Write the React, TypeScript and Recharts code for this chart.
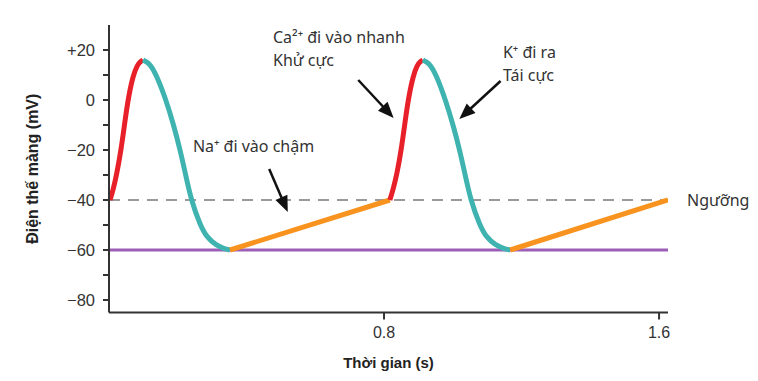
import { LineChart, Line, XAxis, YAxis, ReferenceLine, ReferenceDot, Label } from "recharts";

// [time (s), membrane potential (mV)]
const red1 = [[0.003, -40], [0.012, -36], [0.022, -30], [0.035, -20], [0.045, -10], [0.055, 0], [0.07, 10], [0.083, 14], [0.09, 15.2], [0.099, 16]];
const cyan1 = [[0.099, 16], [0.11, 15.2], [0.121, 14], [0.138, 10], [0.166, 0], [0.188, -10], [0.207, -20], [0.223, -30], [0.239, -40], [0.265, -50], [0.285, -55], [0.311, -58], [0.335, -59.5], [0.352, -60]];
const orange1 = [[0.352, -60], [0.817, -40]];
const red2 = [[0.817, -40], [0.826, -36], [0.837, -30], [0.85, -20], [0.86, -10], [0.87, 0], [0.885, 10], [0.897, 14], [0.904, 15.2], [0.913, 16]];
const cyan2 = [[0.913, 16], [0.924, 15.2], [0.935, 14], [0.952, 10], [0.979, 0], [1.001, -10], [1.02, -20], [1.036, -30], [1.052, -40], [1.078, -50], [1.098, -55], [1.124, -58], [1.149, -59.5], [1.167, -60]];
const orange2 = [[1.167, -60], [1.626, -40]];

const xTicks = [0.8, 1.6];
const yTicks = [-80, -70, -60, -50, -40, -30, -20, -10, 0, 10, 20];
const threshold = -40;
const resting = -60;

const notes = [
  { t: 0.244, v: -20.8, lines: ["Na⁺ đi vào chậm"] },
  { t: 0.477, v: 22.8, lines: ["Ca²⁺ đi vào nhanh", "Khử cực"] },
  { t: 1.146, v: 16.8, lines: ["K⁺ đi ra", "Tái cực"] },
];

const arrows = [
  { from: [0.466, -27.6], to: [0.52, -44.8] },
  { from: [0.725, 8], to: [0.828, -7.2] },
  { from: [1.139, 7.6], to: [1.019, -7.6] },
];

const toPts = (rows: number[][]) => rows.map(([t, v]) => ({ t, v }));

const segments = [
  { data: red1, color: "#e8202a" },
  { data: cyan1, color: "#3fb3b0" },
  { data: orange1, color: "#f7931e" },
  { data: red2, color: "#e8202a" },
  { data: cyan2, color: "#3fb3b0" },
  { data: orange2, color: "#f7931e" },
];

const tickFont = "'Liberation Sans', Arial, sans-serif";
const noteFont = "'Noto Sans', 'Open Sans', sans-serif";

function fmtY(v: number) {
  if (v % 20 !== 0) return "";
  if (v > 0) return "+" + v;
  if (v < 0) return "\u2212" + Math.abs(v);
  return "0";
}

function ArrowShape(props: any) {
  const { x1, y1, x2, y2 } = props;
  const dx = x2 - x1;
  const dy = y2 - y1;
  const len = Math.sqrt(dx * dx + dy * dy) || 1;
  const ux = dx / len;
  const uy = dy / len;
  const hl = 16;
  const hw = 6.5;
  const bx = x2 - ux * hl;
  const by = y2 - uy * hl;
  return (
    <g>
      <line x1={x1} y1={y1} x2={bx + ux * 2} y2={by + uy * 2} stroke="#111" strokeWidth={2.5} />
      <polygon
        points={`${x2},${y2} ${bx - uy * hw},${by + ux * hw} ${bx + uy * hw},${by - ux * hw}`}
        fill="#111"
      />
    </g>
  );
}

export default function App() {
  return (
    <div style={{ width: 758, height: 381, background: "#fff" }}>
      <style>{"body{margin:0}"}</style>
      <LineChart
        width={758}
        height={381}
        margin={{ top: 25, right: 90, left: 0, bottom: 0 }}
        style={{ fontFamily: tickFont }}
      >
        <XAxis
          type="number"
          dataKey="t"
          domain={[0, 1.626]}
          allowDataOverflow
          ticks={xTicks}
          tickFormatter={(v: number) => v.toFixed(1)}
          height={68.5}
          tickSize={7}
          tickMargin={7}
          stroke="#333"
          strokeWidth={2}
          tick={{ fill: "#333", fontSize: 16 }}
        >
          <Label
            value="Thời gian (s)"
            position="insideBottom"
            offset={13}
            fill="#222"
            fontSize={15}
            fontWeight="bold"
          />
        </XAxis>
        <YAxis
          type="number"
          domain={[-85, 30]}
          allowDataOverflow
          ticks={yTicks}
          interval={0}
          tickFormatter={fmtY}
          width={109}
          tickSize={6}
          tickMargin={8}
          stroke="#333"
          strokeWidth={2}
          tick={{ fill: "#333", fontSize: 16.5 }}
        >
          <Label
            value="Điện thế màng (mV)"
            angle={-90}
            position="insideLeft"
            offset={32}
            fill="#222"
            fontSize={16}
            fontWeight="bold"
            style={{ textAnchor: "middle" }}
          />
        </YAxis>

        <ReferenceLine
          y={threshold}
          stroke="#9a9a9a"
          strokeWidth={2}
          strokeDasharray="11 8"
          label={{ value: "Ngưỡng", position: "right", offset: 19, fill: "#333", fontSize: 16, fontFamily: noteFont }}
        />
        <ReferenceLine y={resting} stroke="#9c5fb5" strokeWidth={3} />

        {segments.map((s, i) => (
          <Line
            key={i}
            data={toPts(s.data)}
            dataKey="v"
            type="basis"
            stroke={s.color}
            strokeWidth={5}
            dot={false}
            activeDot={false}
            isAnimationActive={false}
          />
        ))}

        {arrows.map((a, i) => (
          <ReferenceLine
            key={"a" + i}
            segment={[
              { x: a.from[0], y: a.from[1] },
              { x: a.to[0], y: a.to[1] },
            ]}
            shape={ArrowShape}
          />
        ))}

        {notes.map((n, i) => (
          <ReferenceDot
            key={"n" + i}
            x={n.t}
            y={n.v}
            r={0}
            ifOverflow="visible"
            shape={(p: any) => (
              <text x={p.cx} y={p.cy} fill="#333" fontSize={16} fontFamily={noteFont}>
                {n.lines.map((l, j) => (
                  <tspan key={j} x={p.cx} dy={j ? 23 : 0}>
                    {l}
                  </tspan>
                ))}
              </text>
            )}
          />
        ))}
      </LineChart>
    </div>
  );
}
